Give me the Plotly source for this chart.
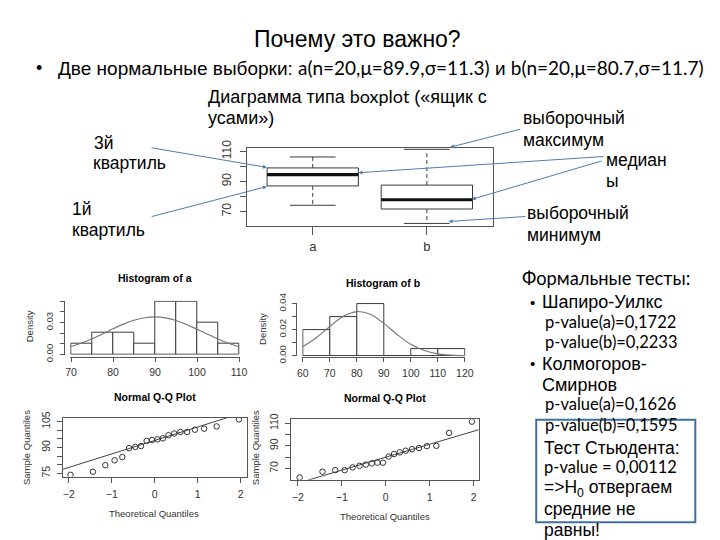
import plotly.graph_objects as go
import numpy as np

W, H = 720, 540
def fx(p): return p / W
def fy(p): return 1 - p / H

# ---------------- data ----------------
sample_a = [74.1, 75.9, 79.7, 82.5, 84.4, 89.6, 90.3, 90.8, 93.8, 94.3,
            94.7, 95.3, 97.1, 98.1, 99.0, 99.0, 100.3, 100.9, 102.2, 106.3]
sample_b = [62.0, 67.1, 68.5, 68.5, 70.9, 72.3, 73.4, 74.5, 75.1, 75.1,
            80.5, 82.8, 84.2, 85.7, 87.1, 88.0, 89.7, 90.0, 101.4, 111.4]
theor_q = [-1.960, -1.440, -1.150, -0.935, -0.755, -0.598, -0.454, -0.319, -0.189, -0.063,
           0.063, 0.189, 0.319, 0.454, 0.598, 0.755, 0.935, 1.150, 1.440, 1.960]
box_names = ["a", "b"]

hist_a_edges = [70, 75, 80, 85, 90, 95, 100, 105, 110]
hist_a_counts = [1, 2, 2, 1, 5, 5, 3, 1]
hist_b_edges = [60, 70, 80, 90, 100, 110, 120]
hist_b_counts = [4, 6, 8, 0, 1, 1]

curve_a_x = [70, 72.5, 75, 77.5, 80, 82.5, 85, 87.5, 90, 92.5, 95, 97.5, 100, 102.5, 105, 107.5, 110]
curve_a_y = [0.0075, 0.0108, 0.0148, 0.0193, 0.0241, 0.0285, 0.0321, 0.0345, 0.0353, 0.0344,
             0.0319, 0.0282, 0.0237, 0.0190, 0.0145, 0.0105, 0.0073]
curve_b_x = [60, 65, 70, 75, 80, 85, 90, 95, 100, 105, 110, 115, 120]
curve_b_y = [0.0071, 0.0139, 0.0225, 0.0303, 0.0340, 0.0319, 0.0249, 0.0162, 0.0088,
             0.0040, 0.0015, 0.0005, 0.0001]

qqline_a_x = [-2.14, 2.16]
qqline_a_y = [77.3, 111.0]
qqline_b_x = [-2.15, 2.12]
qqline_b_y = [55.3, 104.3]

# ---------------- styles ----------------
SANS = "Liberation Sans, Arial, sans-serif"
NARROW = "Liberation Sans Narrow, Arial Narrow, Liberation Sans, sans-serif"
CAL = "Lato, Carlito, Calibri, sans-serif"
LC = "#3a3a3a"
AX = "#555555"
BLUE = "#4f7bb0"

fig = go.Figure()

# ---------------- boxplot (Tukey hinges, R style) ----------------
def tukey(d):
    s = sorted(d)
    n = len(s)
    lower = s[:(n + 1) // 2]
    upper = s[n // 2:]
    q1, med, q3 = float(np.median(lower)), float(np.median(s)), float(np.median(upper))
    iqr = q3 - q1
    lo = min(v for v in s if v >= q1 - 1.5 * iqr)
    hi = max(v for v in s if v <= q3 + 1.5 * iqr)
    return lo, q1, med, q3, hi

for i, data in enumerate([sample_a, sample_b]):
    pos = i + 1
    lo, q1, med, q3, hi = tukey(data)
    hw, cw = 0.4, 0.2
    common = dict(xaxis="x", yaxis="y", showlegend=False, mode="lines", hoverinfo="skip")
    # whiskers (dashed)
    fig.add_trace(go.Scatter(x=[pos, pos, None, pos, pos], y=[q3, hi, None, q1, lo],
                             line=dict(color=LC, width=1, dash="4px,3px"), **common))
    # caps
    fig.add_trace(go.Scatter(x=[pos - cw, pos + cw, None, pos - cw, pos + cw], y=[hi, hi, None, lo, lo],
                             line=dict(color=LC, width=1), **common))
    # box
    fig.add_trace(go.Scatter(x=[pos - hw, pos + hw, pos + hw, pos - hw, pos - hw], y=[q1, q1, q3, q3, q1],
                             line=dict(color=LC, width=1), fill="toself", fillcolor="white", **common))
    # median
    fig.add_trace(go.Scatter(x=[pos - hw, pos + hw], y=[med, med],
                             line=dict(color="#111", width=3.2), **common))

# ---------------- histograms ----------------
def add_hist(edges, counts, n, cx, cy, xa, ya):
    widths = [edges[k + 1] - edges[k] for k in range(len(counts))]
    centers = [(edges[k] + edges[k + 1]) / 2 for k in range(len(counts))]
    dens = [c / (n * w) for c, w in zip(counts, widths)]
    fig.add_trace(go.Bar(x=centers, y=dens, width=widths, marker=dict(color="white",
                         line=dict(color=LC, width=1)), xaxis=xa, yaxis=ya, showlegend=False))
    fig.add_trace(go.Scatter(x=cx, y=cy, mode="lines", line=dict(color="#777", width=1.2, shape="spline"),
                             xaxis=xa, yaxis=ya, showlegend=False))

add_hist(hist_a_edges, hist_a_counts, len(sample_a), curve_a_x, curve_a_y, "x2", "y2")
add_hist(hist_b_edges, hist_b_counts, len(sample_b), curve_b_x, curve_b_y, "x3", "y3")

# ---------------- Q-Q plots ----------------
for data, lx, ly, xa, ya in [(sample_a, qqline_a_x, qqline_a_y, "x4", "y4"),
                             (sample_b, qqline_b_x, qqline_b_y, "x5", "y5")]:
    fig.add_trace(go.Scatter(x=lx, y=ly, mode="lines", line=dict(color="#444", width=1),
                             xaxis=xa, yaxis=ya, showlegend=False))
    fig.add_trace(go.Scatter(x=theor_q, y=data, mode="markers",
                             marker=dict(symbol="circle-open", size=5.5, color="#333",
                                         line=dict(width=1, color="#333")),
                             xaxis=xa, yaxis=ya, showlegend=False))

# ---------------- axes ----------------
tickfont = dict(family=SANS, size=10.5, color="#333")
def ax(**kw):
    base = dict(showgrid=False, zeroline=False, ticks="outside", tickcolor=AX, linecolor=AX,
                tickfont=tickfont, ticklen=4, fixedrange=True)
    base.update(kw)
    return base

layout_axes = dict(
    # boxplot
    xaxis=ax(domain=[fx(246), fx(497)], range=[0.42, 2.58], anchor="y", showline=True, mirror=True,
             tickvals=[1, 2], ticktext=box_names, ticklen=8, tickfont=dict(family=SANS, size=13, color="#333")),
    yaxis=ax(domain=[fy(223), fy(142)], range=[60.3, 112.6], anchor="x", showline=True, mirror=True,
             tickvals=[70, 80, 90, 100, 110], ticktext=["70", "", "90", "", "110"], tickangle=-90,
             ticklen=6, ticklabelstandoff=4, tickfont=dict(family=SANS, size=12, color="#333")),
    # hist a
    xaxis2=ax(domain=[fx(66.45), fx(239.2)], range=[69.8, 110.2], anchor="free", position=fy(358),
              showline=True, tickvals=[70, 80, 90, 100, 110], ticklabelstandoff=2),
    yaxis2=ax(domain=[fy(356.0), fy(300.15)], range=[-0.0003, 0.0505], anchor="free", position=fx(60.3),
              showline=True, tickvals=[0, 0.01, 0.02, 0.03, 0.04, 0.05], ticklabelstandoff=3,
              ticktext=["0.00", "", "", "0.03", "", ""], tickangle=-90, tickfont=dict(family=SANS, size=9.5, color="#333")),
    # hist b
    xaxis3=ax(domain=[fx(302.75), fx(468.85)], range=[59.8, 120.2], anchor="free", position=fy(358.5),
              showline=True, tickvals=[60, 70, 80, 90, 100, 110, 120], ticklabelstandoff=2),
    yaxis3=ax(domain=[fy(357.4), fy(302.6)], range=[-0.0003, 0.0405], anchor="free", position=fx(296.7),
              showline=True, tickvals=[0, 0.01, 0.02, 0.03, 0.04], ticklabelstandoff=3,
              ticktext=["0.00", "", "0.02", "", "0.04"], tickangle=-90, tickfont=dict(family=SANS, size=9.5, color="#333")),
    # qq a
    xaxis4=ax(domain=[fx(59), fx(246.7)], range=[-2.137, 2.153], anchor="y4", showline=True, mirror=True,
              tickvals=[-2, -1, 0, 1, 2], ticklen=5, ticklabelstandoff=3),
    yaxis4=ax(domain=[fy(481.7), fy(421)], range=[73.1, 107.25], anchor="x4", showline=True, mirror=True,
              tickvals=[75, 80, 85, 90, 95, 100, 105], ticktext=["75", "", "", "90", "", "", "105"],
              tickangle=-90, ticklen=5, ticklabelstandoff=3),
    # qq b
    xaxis5=ax(domain=[fx(291.7), fx(482.3)], range=[-2.147, 2.112], anchor="y5", showline=True, mirror=True,
              tickvals=[-2, -1, 0, 1, 2], ticklen=5, ticklabelstandoff=3),
    yaxis5=ax(domain=[fy(485), fy(422.7)], range=[60.0, 113.4], anchor="x5", showline=True, mirror=True,
              tickvals=[70, 80, 90, 100, 110], ticktext=["70", "", "90", "", "110"],
              tickangle=-90, ticklen=5, ticklabelstandoff=3),
)

# ---------------- texts ----------------
ann = []
def T(s, x, y, size, family=SANS, xanchor="left", angle=0, color="black"):
    ann.append(dict(text=s, x=fx(x), y=fy(y), xref="paper", yref="paper", xanchor=xanchor,
                    yanchor="middle", showarrow=False, textangle=angle,
                    font=dict(family=family, size=size, color=color)))

T("Почему это важно?", 359, 30, 23, NARROW, "center")
T("•", 35, 60, 18, SANS, "center")
T("Две нормальные выборки: <span style='font-family:Lato'>a(n=20,μ=89.9,σ=11.3)</span> и "
  "<span style='font-family:Lato'>b(n=20,μ=80.7,σ=11.7)</span>", 52, 59, 19, NARROW)
T("Диаграмма типа <span style='font-family:Lato'>boxplot</span> («ящик с", 205, 89, 18)
T("усами»)", 205, 112, 18)
T("3й", 89, 137, 17.5)
T("квартиль", 88, 158, 17.5)
T("1й", 66, 205, 17.5)
T("квартиль", 66, 227, 17.5)
T("выборочный", 525, 112, 17.5)
T("максимум", 525, 134, 17.5)
T("медиан", 610, 155, 17.5)
T("ы", 610, 177, 17.5)
T("выборочный", 530, 210, 17.5)
T("минимум", 530, 232, 17.5)

# R plot labels
T("<b>Histogram of a</b>", 152.7, 277, 10.5, SANS, "center")
T("<b>Histogram of b</b>", 385, 281.5, 10.5, SANS, "center")
T("Density", 25, 327, 9.5, SANS, "center", -90, "#333")
T("Density", 262, 329, 9.5, SANS, "center", -90, "#333")
T("<b>Normal Q-Q Plot</b>", 152.3, 400, 10.5, SANS, "center")
T("<b>Normal Q-Q Plot</b>", 386.7, 401, 10.5, SANS, "center")
T("Sample Quantiles", 21.7, 452, 9.5, SANS, "center", -90, "#333")
T("Sample Quantiles", 255, 452, 9.5, SANS, "center", -90, "#333")
T("Theoretical Quantiles", 152, 520, 9.5, SANS, "center", 0, "#333")
T("Theoretical Quantiles", 386.7, 523.3, 9.5, SANS, "center", 0, "#333")

# right block
T("Формальные тесты:", 524, 277, 18.3, CAL)
T("•", 537, 302, 15, SANS, "center")
T("Шапиро-Уилкс", 545, 302, 18)
T("p-value(a)=0,1722", 548, 322, 16.5, CAL)
T("p-value(b)=0,2233", 548, 343, 16.5, CAL)
T("•", 537, 365, 15, SANS, "center")
T("Колмогоров-", 545, 365, 18)
T("Смирнов", 545, 387, 18)
T("p-value(a)=0,1626", 548, 407, 16.5, CAL)
T("p-value(b)=0,1595", 548, 429, 16.5, CAL)
T("Тест Стьюдента:", 547, 452, 17.5)
T("p-value = 0,00112", 547, 472, 16.5, CAL)
T("=>H<sub>0</sub> отвергаем", 547, 494, 17.5)
T("средние не", 547, 515, 17.5)
T("равны!", 547, 537, 17.5)

# arrows (start -> target in pixels)
arrows = [((150, 142.7), (266.7, 162.5)),
          ((150, 212.7), (266.7, 182.3)),
          ((606.7, 151.7), (360, 168)),
          ((606.7, 156.7), (475.3, 195.5)),
          ((525, 123.3), (453.3, 141.7)),
          ((530, 213.3), (451.7, 218.3))]
for (sx, sy), (tx, ty) in arrows:
    ann.append(dict(text="", x=fx(tx), y=fy(ty), xref="paper", yref="paper", ax=sx - tx, ay=sy - ty,
                    axref="pixel", ayref="pixel", showarrow=True, arrowhead=2, arrowsize=0.8,
                    arrowwidth=1, arrowcolor=BLUE))

shapes = [dict(type="rect", xref="paper", yref="paper", x0=fx(541), x1=fx(703), y0=fy(529), y1=fy(423),
               line=dict(color="#41709f", width=2), fillcolor="rgba(0,0,0,0)")]

fig.update_layout(width=W, height=H, margin=dict(l=0, r=0, t=0, b=0), paper_bgcolor="white",
                  plot_bgcolor="white", annotations=ann, shapes=shapes, showlegend=False,
                  bargap=0, **layout_axes)
fig.write_html("out.html")
